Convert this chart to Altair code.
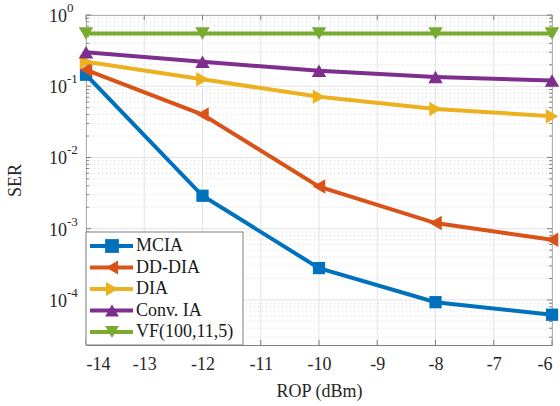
import altair as alt
import pandas as pd

# ---- data ----
rop = [-14, -12, -10, -8, -6]
mcia = [0.145, 2.9e-3, 2.8e-4, 9.3e-5, 6.2e-5]
dd_dia = [0.17, 0.040, 3.9e-3, 1.2e-3, 7.0e-4]
dia = [0.22, 0.125, 0.071, 0.048, 0.038]
conv_ia = [0.30, 0.22, 0.165, 0.135, 0.12]
vf = [0.55, 0.55, 0.55, 0.55, 0.55]

series_names = ["MCIA", "DD-DIA", "DIA", "Conv. IA", "VF(100,11,5)"]
series_values = [mcia, dd_dia, dia, conv_ia, vf]
colors = ["#0072BD", "#D95319", "#EDB120", "#7E2F8E", "#77AC30"]
shapes = ["square", "triangle-left", "triangle-right", "triangle-up", "triangle-down"]
marker_sizes = [150, 210, 210, 210, 210]

x_ticks = [-14, -13, -12, -11, -10, -9, -8, -7, -6]
y_major = [1, 0.1, 0.01, 0.001, 0.0001]
y_exponents = ["0", "-1", "-2", "-3", "-4"]
y_domain = [2.33e-5, 1]
y_minor = [k * 10.0 ** e for e in range(-5, 0) for k in range(2, 10)
           if y_domain[0] <= k * 10.0 ** e <= y_domain[1]]

W, H = 466, 330
FONT = "Liberation Serif"
AX = "#7f7f7f"
TXT = "#262626"

xs = alt.Scale(domain=[-14, -6], nice=False, zero=False)
ys = alt.Scale(type="log", domain=y_domain, nice=False)

# grid lines
major_x_df = pd.DataFrame({"x": x_ticks})
major_y_df = pd.DataFrame({"y": y_major, "base": ["10"] * len(y_major), "exp": y_exponents})
minor_y_df = pd.DataFrame({"y": y_minor})

grid_x = alt.Chart(major_x_df).mark_rule(color="#e3e3e3", strokeWidth=1).encode(
    x=alt.X("x:Q", scale=xs,
            axis=alt.Axis(values=x_ticks, title="ROP (dBm)", grid=False, ticks=False,
                          domain=False, labelPadding=10, titlePadding=9,
                          titleFont=FONT, labelFont=FONT,
                          labelExpr="datum.value < 0 ? '-' + abs(datum.value) : '' + datum.value")),
    y=alt.value(0), y2=alt.value(H))
grid_ymin = alt.Chart(minor_y_df).mark_rule(color="#d6d6d6", strokeWidth=1, strokeDash=[1, 3]).encode(
    y=alt.Y("y:Q", scale=ys,
            axis=alt.Axis(values=y_major, labels=False, title="SER", grid=False, titleFont=FONT,
                          ticks=False, domain=False, titlePadding=62)),
    x=alt.value(0), x2=alt.value(W))
grid_ymaj = alt.Chart(major_y_df).mark_rule(color="#e3e3e3", strokeWidth=1).encode(
    y=alt.Y("y:Q", scale=ys), x=alt.value(0), x2=alt.value(W))

# y tick labels as 10 with superscript exponent
ylab_base = alt.Chart(major_y_df).mark_text(align="right", baseline="middle", font=FONT,
                                            fontSize=18, color=TXT, dy=2).encode(
    y=alt.Y("y:Q", scale=ys), x=alt.value(-19), text="base:N")
ylab_exp = alt.Chart(major_y_df).mark_text(align="left", baseline="middle", font=FONT,
                                           fontSize=13, color=TXT, dy=-7).encode(
    y=alt.Y("y:Q", scale=ys), x=alt.value(-19), text="exp:N")

# inside ticks (MATLAB style, all four sides)
tick_layers = [
    alt.Chart(major_x_df).mark_rule(color=AX).encode(x=alt.X("x:Q", scale=xs), y=alt.value(H - 5), y2=alt.value(H)),
    alt.Chart(major_x_df).mark_rule(color=AX).encode(x=alt.X("x:Q", scale=xs), y=alt.value(0), y2=alt.value(5)),
    alt.Chart(major_y_df).mark_rule(color=AX).encode(y=alt.Y("y:Q", scale=ys), x=alt.value(0), x2=alt.value(5)),
    alt.Chart(major_y_df).mark_rule(color=AX).encode(y=alt.Y("y:Q", scale=ys), x=alt.value(W - 5), x2=alt.value(W)),
    alt.Chart(minor_y_df).mark_rule(color=AX).encode(y=alt.Y("y:Q", scale=ys), x=alt.value(0), x2=alt.value(3)),
    alt.Chart(minor_y_df).mark_rule(color=AX).encode(y=alt.Y("y:Q", scale=ys), x=alt.value(W - 3), x2=alt.value(W)),
]

# series
series_layers = []
for name, vals, col, shp, sz in zip(series_names, series_values, colors, shapes, marker_sizes):
    df = pd.DataFrame({"rop": rop, "ser": vals, "series": name})
    base = alt.Chart(df).encode(x=alt.X("rop:Q", scale=xs), y=alt.Y("ser:Q", scale=ys))
    series_layers.append(base.mark_line(color=col, strokeWidth=4))
    series_layers.append(base.mark_point(shape=shp, filled=True, color=col, size=sz, opacity=1))

plot = alt.layer(grid_x, grid_ymin, grid_ymaj, *tick_layers, ylab_base, ylab_exp, *series_layers)

# legend (manual, line + marker)
leg_df = pd.DataFrame({"name": series_names, "color": colors, "shape": shapes})
leg_y = alt.Y("name:N", scale=alt.Scale(type="point", domain=series_names, range=[231, 317], padding=0), axis=None)
leg_color = alt.Color("color:N", scale=None, legend=None)
legend_box = alt.Chart(pd.DataFrame({"a": [0]})).mark_rect(fill="white", stroke=AX, strokeWidth=1).encode(
    x=alt.value(0), x2=alt.value(157), y=alt.value(217), y2=alt.value(330))
legend_lines = alt.Chart(leg_df).mark_rule(strokeWidth=4).encode(
    y=leg_y, x=alt.value(4), x2=alt.value(47), color=leg_color)
legend_pts = alt.Chart(leg_df).mark_point(filled=True, size=190, opacity=1).encode(
    y=leg_y, x=alt.value(26), color=leg_color,
    shape=alt.Shape("shape:N", scale=None, legend=None))
legend_txt = alt.Chart(leg_df).mark_text(align="left", baseline="middle", font=FONT, fontSize=18,
                                         color="#1a1a1a").encode(
    y=leg_y, x=alt.value(50), text="name:N")
legend = alt.layer(legend_box, legend_lines, legend_pts, legend_txt)

chart = alt.layer(plot, legend).resolve_scale(y="independent", x="independent", color="independent",
                                              shape="independent").properties(
    width=W, height=H,
    autosize=alt.AutoSizeParams(type="none"),
    padding={"left": 86, "top": 15, "right": 8, "bottom": 61},
).configure_view(stroke=AX, strokeWidth=1).configure_axis(
    labelFont=FONT, labelFontSize=18, labelColor=TXT,
    titleFont=FONT, titleFontSize=18, titleColor=TXT, titleFontWeight="normal",
)

chart.save("out.html", embed_options={"renderer": "svg", "actions": False})
